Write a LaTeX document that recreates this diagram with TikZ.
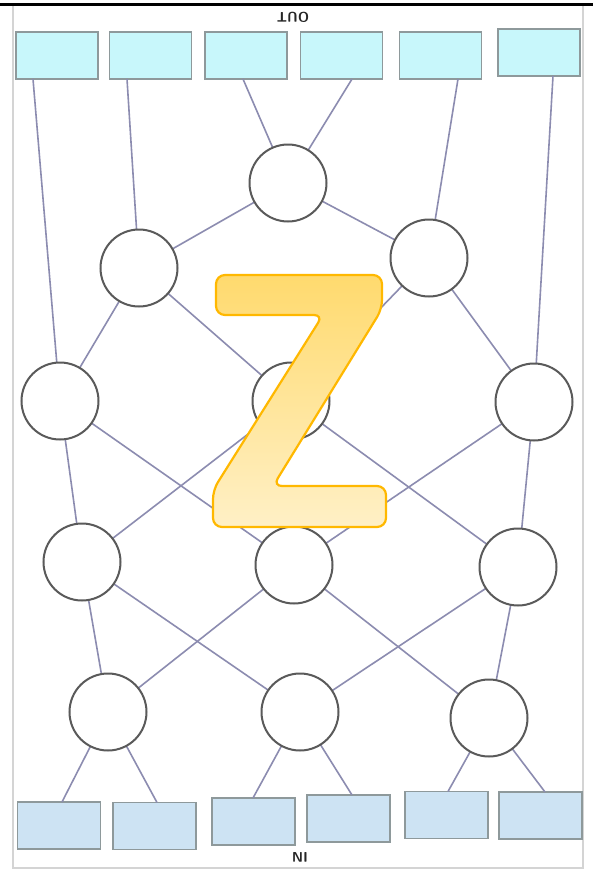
\documentclass[tikz,border=0pt]{standalone}
\usetikzlibrary{shadings}
\definecolor{conncol}{HTML}{8C8CB0}
\definecolor{circcol}{HTML}{5A5A5A}
\definecolor{topfill}{HTML}{C8F7FB}
\definecolor{botfill}{HTML}{CDE3F3}
\definecolor{boxline}{HTML}{8E999B}
\definecolor{zborder}{HTML}{FFB800}
\definecolor{ztop}{HTML}{FFDA6E}
\definecolor{zbot}{HTML}{FFF0C6}
\definecolor{framecol}{HTML}{D4D4D4}
\begin{document}
\begin{tikzpicture}[x=1pt,y=-1pt,
  conn/.style={draw=conncol,line width=1.6pt},
  circ/.style={circle,draw=circcol,line width=2pt,fill=white,minimum size=77pt,inner sep=0pt},
  topbox/.style={rectangle,draw=boxline,line width=1.8pt,fill=topfill,minimum width=82pt,minimum height=47pt,inner sep=0pt},
  botbox/.style={rectangle,draw=boxline,line width=1.8pt,fill=botfill,minimum width=83pt,minimum height=47pt,inner sep=0pt},
  lbl/.style={font=\sffamily\bfseries\fontsize{14}{15}\selectfont,rotate=180,text=black!85}
]
\useasboundingbox (0,0) rectangle (593,873);
\fill[white] (0,0) rectangle (593,873);
% frame
\draw[framecol,line width=1.2pt] (13,5) rectangle (583,868);
\draw[black,line width=3pt] (0,4) -- (593,4);
% labels
\node[lbl] (out) at (293,17) {OUT};
\node[lbl] (in) at (300,857) {IN};
% top boxes
\node[topbox] (t1) at (57,55.5) {};
\node[topbox] (t2) at (150.5,55.5) {};
\node[topbox] (t3) at (246,55.5) {};
\node[topbox] (t4) at (341.5,55.5) {};
\node[topbox] (t5) at (440.5,55.5) {};
\node[topbox] (t6) at (539,52.5) {};
% bottom boxes
\node[botbox] (b1) at (59,825.5) {};
\node[botbox] (b2) at (154.5,826) {};
\node[botbox] (b3) at (253.5,821.5) {};
\node[botbox] (b4) at (348.5,818.5) {};
\node[botbox] (b5) at (446.5,815) {};
\node[botbox] (b6) at (540.5,815.5) {};
% attachment points
\coordinate (t1e) at (33,79);
\coordinate (t2e) at (127,79);
\coordinate (t3e) at (243,79);
\coordinate (t4e) at (352,79);
\coordinate (t5e) at (458,79);
\coordinate (t6e) at (553,76);
\coordinate (b1e) at (62,802);
\coordinate (b2e) at (157,802.5);
\coordinate (b3e) at (253,798);
\coordinate (b4e) at (352,795);
\coordinate (b5e) at (448,791.5);
\coordinate (b6e) at (545,792);
% circle positions
\coordinate (p1) at (288,183);
\coordinate (p21) at (139,268);
\coordinate (p22) at (429,258);
\coordinate (p31) at (60,401);
\coordinate (p32) at (291,401);
\coordinate (p33) at (534,402);
\coordinate (p41) at (82,562);
\coordinate (p42) at (294,565);
\coordinate (p43) at (518,567);
\coordinate (p51) at (108,712);
\coordinate (p52) at (300,712);
\coordinate (p53) at (489,718);
% connectors (drawn first, under circles)
\foreach \a/\b in {t1e/p31,t2e/p21,t3e/p1,t4e/p1,t5e/p22,t6e/p33,
  p1/p21,p1/p22,p21/p31,p21/p32,p22/p32,p22/p33,
  p31/p41,p31/p42,p32/p41,p32/p43,p33/p42,p33/p43,
  p41/p51,p41/p52,p42/p51,p42/p53,p43/p52,p43/p53,
  p51/b1e,p51/b2e,p52/b3e,p52/b4e,p53/b5e,p53/b6e}
  \draw[conn] (\a) -- (\b);
% circles
\node[circ] (c1) at (p1) {};
\node[circ] (c21) at (p21) {};
\node[circ] (c22) at (p22) {};
\node[circ] (c31) at (p31) {};
\node[circ] (c32) at (p32) {};
\node[circ] (c33) at (p33) {};
\node[circ] (c41) at (p41) {};
\node[circ] (c42) at (p42) {};
\node[circ] (c43) at (p43) {};
\node[circ] (c51) at (p51) {};
\node[circ] (c52) at (p52) {};
\node[circ] (c53) at (p53) {};
% big Z
\path[draw=zborder,line width=2.2pt,top color=ztop,bottom color=zbot,rounded corners=9pt]
  (216,275) -- (382,275) -- (382,309) -- (273,486) -- (386,486) -- (386,527)
  -- (213,527) -- (213,490) -- (323,315) -- (216,315) -- cycle;
\end{tikzpicture}
\end{document}
